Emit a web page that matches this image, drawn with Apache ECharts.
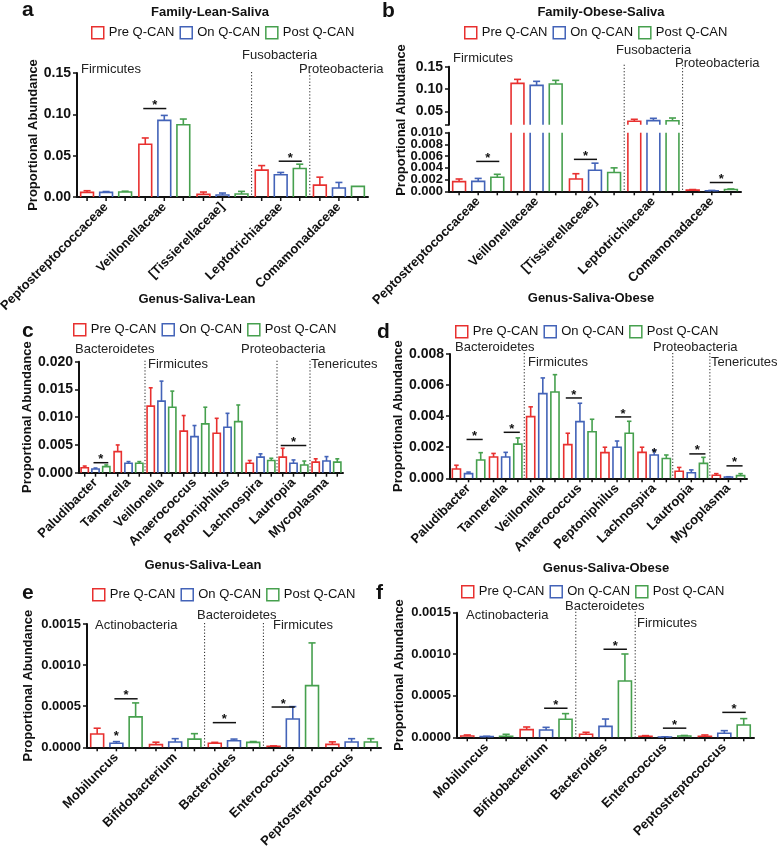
<!DOCTYPE html>
<html><head><meta charset="utf-8">
<script src="https://cdn.jsdelivr.net/npm/echarts@6/dist/echarts.min.js"></script>
<style>html,body{margin:0;padding:0;background:#fff}#c{width:778px;height:848px}</style>
</head><body><div id="c"></div>
<script>
const FONT = "'Liberation Sans', Arial, Helvetica, sans-serif";
const groups = ['Pre Q-CAN', 'On Q-CAN', 'Post Q-CAN'];
const colors = ['#e8302f', '#4363b8', '#46a04e'];

const familyCats = ['Peptostreptococcaceae', 'Veillonellaceae', '[Tissierellaceae]', 'Leptotrichiaceae', 'Comamonadaceae'];
const genusCats1 = ['Paludibacter', 'Tannerella', 'Veillonella', 'Anaerococcus', 'Peptoniphilus', 'Lachnospira', 'Lautropia', 'Mycoplasma'];
const genusCats2 = ['Mobiluncus', 'Bifidobacterium', 'Bacteroides', 'Enterococcus', 'Peptostreptococcus'];

// Panel a: Family-Lean-Saliva
const aPre = [0.0056, 0.0638, 0.0032, 0.0325, 0.0144];
const aOn = [0.0056, 0.0927, 0.0024, 0.0269, 0.0108];
const aPost = [0.0060, 0.0874, 0.0036, 0.0345, 0.0128];
const aPreSem = [0.0020, 0.0076, 0.0028, 0.0055, 0.0096];
const aOnSem = [0.0010, 0.0060, 0.0024, 0.0028, 0.0068];
const aPostSem = [0.0010, 0.0069, 0.0032, 0.0052, 0];
const aTicks = [0, 0.05, 0.10, 0.15];
const aSig = [[1, 0, 1, 0.107], [3, 1, 2, 0.0433]];
const aSep = [3, 4];

// Panel b: Family-Obese-Saliva (broken axis)
const bPre = [0.00165, 0.1127, 0.0021, 0.0276, 0.0002];
const bOn = [0.0017, 0.1082, 0.0036, 0.0291, 0.0001];
const bPost = [0.0024, 0.1112, 0.0032, 0.0290, 0.0003];
const bPreSem = [0.00045, 0.0089, 0.0009, 0.0045, 0.0001];
const bOnSem = [0.0005, 0.0090, 0.0012, 0.0052, 0.00005];
const bPostSem = [0.0005, 0.0082, 0.0008, 0.0060, 0.0001];
const bUpperTicks = [0.05, 0.10, 0.15];
const bBreak = 0.02;
const bLowerTicks = [0, 0.002, 0.004, 0.006, 0.008, 0.010];
const bSig = [[0, 1, 2, 0.0051], [2, 0, 1, 0.00545], [4, 1, 2, 0.0015]];
const bSep = [3, 4];

// Panel c: Genus-Saliva-Lean
const cPre = [0.0009, 0.0038, 0.0120, 0.0075, 0.0071, 0.0017, 0.0028, 0.0019];
const cOn = [0.00066, 0.0017, 0.0129, 0.0065, 0.0082, 0.0028, 0.0017, 0.0021];
const cPost = [0.0011, 0.0017, 0.0118, 0.0088, 0.0092, 0.0022, 0.0014, 0.0019];
const cPreSem = [0.0003, 0.0012, 0.0033, 0.0028, 0.0027, 0.0005, 0.0016, 0.0006];
const cOnSem = [0.00018, 0.0003, 0.0036, 0.0020, 0.0025, 0.0006, 0.0006, 0.0008];
const cPostSem = [0.0003, 0.0003, 0.0029, 0.0030, 0.0030, 0.0004, 0.0007, 0.0006];
const cTicks = [0, 0.005, 0.010, 0.015, 0.020];
const cSig = [[0, 1, 2, 0.0018], [6, 0, 2, 0.0049]];
const cSep = [2, 6, 7];

// Panel d: Genus-Saliva-Obese
const dPre = [0.0006, 0.00137, 0.00397, 0.00217, 0.00165, 0.00167, 0.00045, 0.0002];
const dOn = [0.0003, 0.00137, 0.00545, 0.00365, 0.0020, 0.0015, 0.00036, 0.00008];
const dPost = [0.00118, 0.0022, 0.00555, 0.0030, 0.0029, 0.00127, 0.00096, 0.00017];
const dPreSem = [0.00024, 0.00023, 0.00063, 0.00073, 0.00035, 0.00033, 0.00025, 0.0001];
const dOnSem = [0.0001, 0.0003, 0.00101, 0.00118, 0.0004, 0.0003, 0.00018, 0.00002];
const dPostSem = [0.00047, 0.0004, 0.00112, 0.0008, 0.00077, 0.00023, 0.00039, 0.00013];
const dTicks = [0, 0.002, 0.004, 0.006, 0.008];
const dSig = [[0, 1, 2, 0.0025], [1, 1, 2, 0.00296], [3, 0, 1, 0.00517], [4, 1, 2, 0.00395], [6, 1, 2, 0.00157], [7, 1, 2, 0.0008]];
const dStar = [[5, 1, 0.0018]];
const dSep = [2, 6, 7];

// Panel e: Genus-Saliva-Lean
const ePre = [0.000162, 0.000032, 0.00005, 0.000012, 0.000036];
const eOn = [0.000049, 0.000065, 0.00008, 0.000345, 0.000065];
const ePost = [0.00037, 0.0001, 0.00006, 0.00075, 0.000065];
const ePreSem = [0.00007, 0.00003, 0.00001, 0.000005, 0.00003];
const eOnSem = [0.00002, 0.00004, 0.00002, 0.00015, 0.00004];
const ePostSem = [0.00017, 0.000066, 0.00001, 0.00052, 0.00004];
const eTicks = [0, 0.0005, 0.0010, 0.0015];
const eSig = [[0, 1, 2, 0.00059], [2, 0, 1, 0.0003], [3, 0, 1, 0.00049]];
const eStar = [[0, 1, 0.00017]];
const eSep = [2, 3];

// Panel f: Genus-Saliva-Obese
const fPre = [0.000016, 0.000092, 0.000036, 0.000012, 0.000012];
const fOn = [0.000008, 0.000088, 0.000132, 0.000004, 0.000048];
const fPost = [0.000012, 0.000217, 0.000678, 0.000016, 0.000148];
const fPreSem = [0.000012, 0.000032, 0.000024, 0.000008, 0.000016];
const fOnSem = [0.000004, 0.000032, 0.000088, 0.000002, 0.000032];
const fPostSem = [0.000024, 0.000068, 0.000325, 0.000006, 0.000077];
const fTicks = [0, 0.0005, 0.0010, 0.0015];
const fSig = [[1, 1, 2, 0.00035], [2, 1, 2, 0.00106], [3, 1, 2, 0.00011], [4, 1, 2, 0.0003]];
const fSep = [2, 3];

const BAR_STEP = 0.327, BAR_HALF = 0.11;

function barRender(slot, color, showTicks) {
  return function (params, api) {
    const i = api.value(0), v = api.value(1), e = api.value(2);
    const cs = params.coordSys;
    const catW = api.size([1, 0])[0];
    const p = api.coord([i, v]);
    const cx = p[0] + slot * catW * BAR_STEP;
    const hw = catW * BAR_HALF;
    const yTop = p[1];
    const yBot = cs.y + cs.height;
    const st = { stroke: color, lineWidth: 1.6, fill: null };
    const ch = [];
    if (yTop < yBot - 0.01) {
      if (yTop >= cs.y) {
        ch.push({ type: 'polyline', shape: { points: [[cx - hw, yBot], [cx - hw, yTop], [cx + hw, yTop], [cx + hw, yBot]] }, style: st });
        if (e > 0) {
          const yE = Math.max(api.coord([i, v + e])[1], cs.y);
          ch.push({ type: 'line', shape: { x1: cx, y1: yTop, x2: cx, y2: yE }, style: st });
          ch.push({ type: 'line', shape: { x1: cx - hw * 0.55, y1: yE, x2: cx + hw * 0.55, y2: yE }, style: st });
        }
      } else {
        ch.push({ type: 'line', shape: { x1: cx - hw, y1: yBot, x2: cx - hw, y2: cs.y }, style: st });
        ch.push({ type: 'line', shape: { x1: cx + hw, y1: yBot, x2: cx + hw, y2: cs.y }, style: st });
      }
    }
    if (showTicks) {
      ch.push({ type: 'line', shape: { x1: cx, y1: yBot, x2: cx, y2: yBot + 4 }, style: { stroke: '#111', lineWidth: 1.5 } });
    }
    return { type: 'group', children: ch };
  };
}

function sigRender(params, api) {
  const cat = api.value(0), a = api.value(1), b = api.value(2), v = api.value(3);
  const catW = api.size([1, 0])[0];
  const c = api.coord([cat, v]);
  const x1 = c[0] + (a - 1) * catW * BAR_STEP - 2;
  const x2 = c[0] + (b - 1) * catW * BAR_STEP + 2;
  return { type: 'group', children: [
    { type: 'line', shape: { x1: x1, y1: c[1], x2: x2, y2: c[1] }, style: { stroke: '#111', lineWidth: 1.5 } },
    { type: 'text', x: (x1 + x2) / 2, y: c[1] - 3, style: { text: '*', font: 'bold 13px ' + FONT, fill: '#111', align: 'center', verticalAlign: 'middle' } }
  ] };
}

function starRender(params, api) {
  const cat = api.value(0), s = api.value(1), v = api.value(2);
  const catW = api.size([1, 0])[0];
  const c = api.coord([cat, v]);
  return { type: 'text', x: c[0] + (s - 1) * catW * BAR_STEP, y: c[1] + 3, style: { text: '*', font: 'bold 13px ' + FONT, fill: '#111', align: 'center', verticalAlign: 'middle' } };
}

function sepRender(ext) {
  return function (params, api) {
    const k = api.value(0);
    const cs = params.coordSys;
    const catW = api.size([1, 0])[0];
    const x = api.coord([k, api.value(1)])[0] - catW / 2;
    return { type: 'line', shape: { x1: x, y1: cs.y - ext, x2: x, y2: cs.y + cs.height }, style: { stroke: '#222', lineWidth: 1, lineDash: [1.2, 2] } };
  };
}

const grids = [
  { left: 77, top: 73, width: 291, height: 124 },      // a
  { left: 449, top: 66.7, width: 292, height: 58 },    // b upper
  { left: 449, top: 132.7, width: 292, height: 58.6 }, // b lower
  { left: 79, top: 361.7, width: 264, height: 111 },   // c
  { left: 450, top: 354, width: 297, height: 124.3 },  // d
  { left: 87, top: 624, width: 294, height: 123.3 },   // e
  { left: 457, top: 612.7, width: 297, height: 124.6 } // f
].map(g => Object.assign({ outerBoundsMode: 'none', containLabel: false }, g));

function xAxisFor(gi, cats, show) {
  return {
    type: 'category', gridIndex: gi, data: cats, show: show !== false,
    axisLine: { show: true, lineStyle: { color: '#111', width: 2 } },
    axisTick: { show: false },
    axisLabel: { rotate: 45, interval: 0, fontWeight: 'bold', fontSize: 13, color: '#111', margin: 8, fontFamily: FONT },
    splitLine: { show: false }
  };
}

function yAxisFor(gi, ticks, dec, fs, name, nameGap) {
  return {
    type: 'value', gridIndex: gi, min: ticks[0], max: ticks[ticks.length - 1], interval: ticks[1] - ticks[0],
    axisLine: { show: true, lineStyle: { color: '#111', width: 2 } },
    axisTick: { show: true, length: 4, lineStyle: { color: '#111', width: 1.5 } },
    splitLine: { show: false },
    axisLabel: { color: '#111', fontWeight: 'bold', fontSize: fs, fontFamily: FONT, margin: 6,
      showMinLabel: true, showMaxLabel: true, hideOverlap: false, formatter: v => v.toFixed(dec) },
    name: name, nameLocation: 'middle', nameGap: nameGap, nameRotate: 90,
    nameTextStyle: { color: '#111', fontWeight: 'bold', fontSize: 13, fontFamily: FONT }
  };
}

const xAxes = [
  xAxisFor(0, familyCats),
  xAxisFor(1, familyCats, false),
  xAxisFor(2, familyCats),
  xAxisFor(3, genusCats1),
  xAxisFor(4, genusCats1),
  xAxisFor(5, genusCats2),
  xAxisFor(6, genusCats2)
];

const yUpper = yAxisFor(1, [bBreak].concat(bUpperTicks), 2, 14, '', 0);
yUpper.axisLabel.customValues = bUpperTicks;
yUpper.axisTick.customValues = [bBreak].concat(bUpperTicks);
yUpper.interval = null;

// lower part of the broken axis: labels split over two overlaid axes so none is hidden
const yLower = yAxisFor(2, bLowerTicks, 3, 13, '', 0);
yLower.axisLabel.customValues = bLowerTicks.filter((v, i) => i % 2 === 0);
yLower.axisTick.customValues = bLowerTicks;
const yLower2 = yAxisFor(2, bLowerTicks, 3, 13, '', 0);
yLower2.axisLabel.customValues = bLowerTicks.filter((v, i) => i % 2 === 1);
yLower2.axisLine.show = false;
yLower2.axisTick.show = false;
yLower2.position = 'left';
yLower2.offset = 0;

const yAxes = [
  yAxisFor(0, aTicks, 2, 14, 'Proportional Abundance', 37),
  yUpper,
  yLower,
  yAxisFor(3, cTicks, 3, 14, 'Proportional Abundance', 41),
  yAxisFor(4, dTicks, 3, 14, 'Proportional Abundance', 41),
  yAxisFor(5, eTicks, 4, 13, 'Proportional Abundance', 52),
  yAxisFor(6, fTicks, 4, 13, 'Proportional Abundance', 51),
  yLower2
];
yAxes[2].position = 'left';

const panels = [
  { ax: 0, cats: familyCats, means: [aPre, aOn, aPost], sems: [aPreSem, aOnSem, aPostSem], sig: aSig, sep: aSep, ext: 1, base: aTicks[0] },
  { ax: 1, cats: familyCats, means: [bPre, bOn, bPost], sems: [bPreSem, bOnSem, bPostSem], sig: [], sep: bSep, ext: 2, base: bBreak, noTicks: true },
  { ax: 2, cats: familyCats, means: [bPre, bOn, bPost], sems: [bPreSem, bOnSem, bPostSem], sig: bSig, sep: bSep, ext: 8, base: bLowerTicks[0] },
  { ax: 3, cats: genusCats1, means: [cPre, cOn, cPost], sems: [cPreSem, cOnSem, cPostSem], sig: cSig, sep: cSep, ext: 1, base: cTicks[0] },
  { ax: 4, cats: genusCats1, means: [dPre, dOn, dPost], sems: [dPreSem, dOnSem, dPostSem], sig: dSig, sep: dSep, ext: 1, base: dTicks[0], star: dStar },
  { ax: 5, cats: genusCats2, means: [ePre, eOn, ePost], sems: [ePreSem, eOnSem, ePostSem], sig: eSig, sep: eSep, ext: 1, base: eTicks[0], star: eStar },
  { ax: 6, cats: genusCats2, means: [fPre, fOn, fPost], sems: [fPreSem, fOnSem, fPostSem], sig: fSig, sep: fSep, ext: 1, base: fTicks[0] }
];

const series = [];
panels.forEach(p => {
  for (let g = 0; g < 3; g++) {
    series.push({
      type: 'custom', name: groups[g], xAxisIndex: p.ax, yAxisIndex: p.ax, z: 3, silent: true,
      itemStyle: { color: colors[g] },
      renderItem: barRender(g - 1, colors[g], !p.noTicks),
      encode: { x: 0, y: 1 },
      data: p.cats.map((c, i) => [i, p.means[g][i], p.sems[g][i]])
    });
  }
  series.push({ type: 'custom', xAxisIndex: p.ax, yAxisIndex: p.ax, z: 2, silent: true,
    renderItem: sepRender(p.ext), encode: { x: 0, y: 1 }, data: p.sep.map(k => [k, p.base]) });
  if (p.sig.length) series.push({ type: 'custom', xAxisIndex: p.ax, yAxisIndex: p.ax, z: 4, silent: true,
    renderItem: sigRender, encode: { x: 0, y: 3 }, data: p.sig });
  if (p.star) series.push({ type: 'custom', xAxisIndex: p.ax, yAxisIndex: p.ax, z: 4, silent: true,
    renderItem: starRender, encode: { x: 0, y: 2 }, data: p.star });
});

const legendPos = [[91, 33], [464, 33], [73, 330], [455, 332], [92, 595], [461, 592]];
const legends = legendPos.map(pos => ({
  left: pos[0], top: pos[1] - 7, orient: 'horizontal', itemWidth: 12, itemHeight: 12, itemGap: 5,
  selectedMode: false, padding: 0,
  textStyle: { fontSize: 13, color: '#111', fontFamily: FONT },
  data: groups.map((g, i) => ({ name: g, icon: 'rect', itemStyle: { color: '#fff', borderColor: colors[i], borderWidth: 1.5 } }))
}));

const titles = [['Family-Lean-Saliva', 210, 12], ['Family-Obese-Saliva', 601, 12], ['Genus-Saliva-Lean', 197, 299],
  ['Genus-Saliva-Obese', 591, 298], ['Genus-Saliva-Lean', 203, 565], ['Genus-Saliva-Obese', 606, 568]];
const letters = [['a', 22, 17], ['b', 382, 18], ['c', 22, 338], ['d', 377, 339], ['e', 22, 600], ['f', 376, 600]];
const phyla = [
  ['Firmicutes', 81, 69], ['Fusobacteria', 242, 55], ['Proteobacteria', 299, 69],
  ['Firmicutes', 453, 58], ['Fusobacteria', 616, 50], ['Proteobacteria', 675, 63],
  ['Bacteroidetes', 75, 349], ['Firmicutes', 148, 364], ['Proteobacteria', 241, 349], ['Tenericutes', 311, 364],
  ['Bacteroidetes', 455, 347], ['Firmicutes', 528, 362], ['Proteobacteria', 653, 347], ['Tenericutes', 711, 362],
  ['Actinobacteria', 95, 625], ['Bacteroidetes', 197, 615], ['Firmicutes', 273, 625],
  ['Actinobacteria', 466, 615], ['Bacteroidetes', 565, 606], ['Firmicutes', 637, 623]
];

const graphic = [];
titles.forEach(t => graphic.push({ type: 'text', x: t[1], y: t[2], style: { text: t[0], font: 'bold 13px ' + FONT, fill: '#111', align: 'center', verticalAlign: 'middle' } }));
letters.forEach(t => graphic.push({ type: 'text', x: t[1], y: t[2] + 4, style: { text: t[0], font: 'bold 21px ' + FONT, fill: '#111', align: 'left', verticalAlign: 'bottom' } }));
phyla.forEach(t => graphic.push({ type: 'text', x: t[1], y: t[2], style: { text: t[0], font: '13px ' + FONT, fill: '#222', align: 'left', verticalAlign: 'middle' } }));
graphic.push({ type: 'text', x: 401, y: 120, rotation: Math.PI / 2, style: { text: 'Proportional Abundance', font: 'bold 13px ' + FONT, fill: '#111', align: 'center', verticalAlign: 'middle' } });

const chart = echarts.init(document.getElementById('c'), null, { renderer: 'canvas' });
chart.setOption({
  animation: false,
  backgroundColor: '#fff',
  textStyle: { fontFamily: FONT },
  grid: grids,
  xAxis: xAxes,
  yAxis: yAxes,
  legend: legends,
  series: series,
  graphic: graphic
});
</script></body></html>
